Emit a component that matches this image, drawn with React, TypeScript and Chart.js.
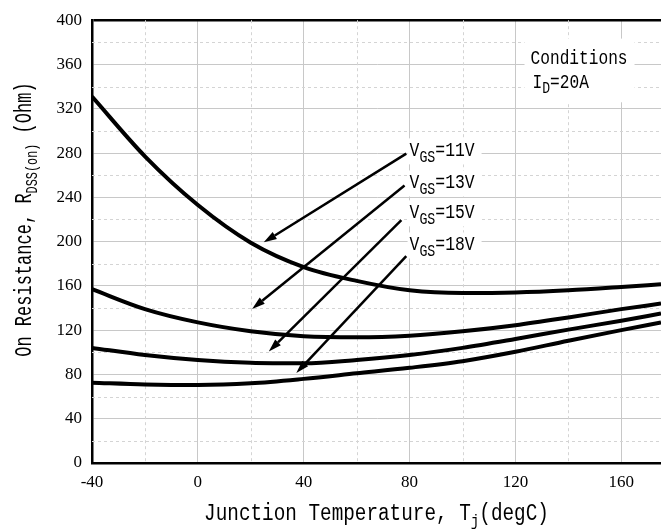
import React, { useEffect, useRef } from "react";
import { Chart, registerables } from "chart.js";
Chart.register(...registerables);

// Junction temperature (degC)
const temps = [-40, -20, 0, 20, 40, 60, 80, 100, 120, 140, 160, 175];
// On resistance (Ohm) per gate voltage
const rds11 = [331, 277, 233, 199, 177, 164.5, 156, 153.5, 154, 156, 159, 161.5];
const rds13 = [157, 139, 127, 119, 114.5, 113.5, 115, 119, 124.5, 131.5, 139, 144];
const rds15 = [104, 97.5, 93, 90.5, 90, 93, 97.5, 104, 112, 120.5, 128.5, 135];
const rds18 = [72.5, 71, 70.5, 72, 76, 81, 86, 92, 100.5, 110.5, 120, 127];

const seriesNames = ["VGS=11V", "VGS=13V", "VGS=15V", "VGS=18V"];
const voltTexts = ["=11V", "=13V", "=15V", "=18V"];

const xTickValues = [-40, 0, 40, 80, 120, 160];
const xMinorValues = [-20, 20, 60, 100, 140];
const yMinorValues = [20, 60, 100, 140, 180, 220, 260, 300, 340, 380];

// annotation label anchors (data coords)
const labelT = [80, 80, 80, 80];
const labelR = [277, 248, 221, 192];
// arrows: tail near label, head on curve (data coords)
const arrowTailT = [78.75, 78.1, 76.9, 78.75];
const arrowTailR = [279.5, 250.6, 219.4, 186.8];
const arrowHeadT = [24.9, 20.5, 26.8, 37.2];
const arrowHeadR = [199.3, 139.2, 100.7, 81.3];

const condT = 125.7;
const condR = [360.8, 338.5];

const xTitleMain = "Junction Temperature, T";
const xTitleSub = "j";
const xTitleEnd = "(degC)";
const yTitleMain = "On Resistance, R";
const yTitleSub = "DSS(on)";
const yTitleEnd = " (Ohm)";

const MONO = '"Liberation Mono", "DejaVu Sans Mono", monospace';

type Part = { t: string; size: number; dy?: number; sx?: number };

function drawRich(ctx: CanvasRenderingContext2D, parts: Part[], x: number, y: number, align: "left" | "center", sx: number) {
  let total = 0;
  const widths: number[] = [];
  for (const p of parts) {
    ctx.font = `${p.size}px ${MONO}`;
    const w = ctx.measureText(p.t).width * (p.sx ?? sx);
    widths.push(w);
    total += w;
  }
  let cur = align === "center" ? x - total / 2 : x;
  ctx.textAlign = "left";
  ctx.textBaseline = "alphabetic";
  parts.forEach((p, i) => {
    ctx.font = `${p.size}px ${MONO}`;
    ctx.save();
    ctx.translate(cur, y + (p.dy ?? 0));
    ctx.scale(p.sx ?? sx, 1);
    ctx.fillText(p.t, 0, 0);
    ctx.restore();
    cur += widths[i];
  });
  return total;
}

const minorGridPlugin = {
  id: "minorGrid",
  beforeDatasetsDraw(chart: any) {
    const { ctx, chartArea, scales } = chart;
    const xs = scales.x, ys = scales.y;
    ctx.save();
    ctx.strokeStyle = "#d4d4d4";
    ctx.lineWidth = 1;
    ctx.setLineDash([3, 3]);
    for (const v of xMinorValues) {
      const px = Math.round(xs.getPixelForValue(v)) + 0.5;
      ctx.beginPath();
      ctx.moveTo(px, chartArea.top);
      ctx.lineTo(px, chartArea.bottom);
      ctx.stroke();
    }
    for (const v of yMinorValues) {
      const py = Math.round(ys.getPixelForValue(v)) + 0.5;
      ctx.beginPath();
      ctx.moveTo(chartArea.left, py);
      ctx.lineTo(chartArea.right, py);
      ctx.stroke();
    }
    ctx.restore();
  },
};

const annotationPlugin = {
  id: "annotations",
  afterDatasetsDraw(chart: any) {
    const { ctx, chartArea, scales } = chart;
    const xs = scales.x, ys = scales.y;
    ctx.save();
    ctx.fillStyle = "#000";
    // series labels
    for (let i = 0; i < seriesNames.length; i++) {
      const px = xs.getPixelForValue(labelT[i]);
      const py = ys.getPixelForValue(labelR[i]);
      ctx.fillStyle = "#fff";
      ctx.fillRect(px - 2, py - 18, 74, 26);
      ctx.fillStyle = "#000";
      drawRich(
        ctx,
        [
          { t: "V", size: 21 },
          { t: "GS", size: 17, dy: 6 },
          { t: voltTexts[i], size: 21 },
        ],
        px,
        py,
        "left",
        0.78
      );
    }
    // arrows
    ctx.strokeStyle = "#000";
    ctx.fillStyle = "#000";
    for (let i = 0; i < arrowTailT.length; i++) {
      const x1 = xs.getPixelForValue(arrowTailT[i]);
      const y1 = ys.getPixelForValue(arrowTailR[i]);
      const x2 = xs.getPixelForValue(arrowHeadT[i]);
      const y2 = ys.getPixelForValue(arrowHeadR[i]);
      const ang = Math.atan2(y2 - y1, x2 - x1);
      const hl = 13, hw = 4;
      const bx = x2 - hl * Math.cos(ang), by = y2 - hl * Math.sin(ang);
      ctx.lineWidth = 2.5;
      ctx.beginPath();
      ctx.moveTo(x1, y1);
      ctx.lineTo(bx, by);
      ctx.stroke();
      ctx.beginPath();
      ctx.moveTo(x2, y2);
      ctx.lineTo(bx + hw * Math.sin(ang), by - hw * Math.cos(ang));
      ctx.lineTo(bx - hw * Math.sin(ang), by + hw * Math.cos(ang));
      ctx.closePath();
      ctx.fill();
    }
    // conditions box
    const cx = xs.getPixelForValue(condT);
    const cy0 = ys.getPixelForValue(condR[0]);
    const cy1 = ys.getPixelForValue(condR[1]);
    ctx.fillStyle = "#fff";
    ctx.fillRect(cx - 6, cy0 - 25, 110, cy1 - cy0 + 39);
    ctx.fillStyle = "#000";
    drawRich(ctx, [{ t: "Conditions", size: 21 }], cx, cy0, "left", 0.77);
    drawRich(
      ctx,
      [
        { t: "I", size: 21 },
        { t: "D", size: 17, dy: 5 },
        { t: "=20A", size: 21 },
      ],
      cx + 2,
      cy1,
      "left",
      0.77
    );
    ctx.restore();

    // axis titles
    ctx.save();
    ctx.fillStyle = "#000";
    const midX = (chartArea.left + chartArea.right) / 2;
    drawRich(
      ctx,
      [
        { t: xTitleMain, size: 23 },
        { t: xTitleSub, size: 17, dy: 6 },
        { t: xTitleEnd, size: 23 },
      ],
      midX,
      chartArea.bottom + 57,
      "center",
      0.84
    );
    ctx.translate(chartArea.left - 61, (chartArea.top + chartArea.bottom) / 2 - 22);
    ctx.rotate(-Math.PI / 2);
    drawRich(
      ctx,
      [
        { t: yTitleMain, size: 23 },
        { t: yTitleSub, size: 16, dy: 6 },
        { t: yTitleEnd, size: 23 },
      ],
      0,
      0,
      "center",
      0.74
    );
    ctx.restore();
  },
};

export default function App() {
  const ref = useRef<HTMLCanvasElement | null>(null);
  useEffect(() => {
    document.body.style.margin = "0";
    const canvas = ref.current;
    if (!canvas) return;
    const mk = (arr: number[]) => temps.map((t, i) => ({ x: t, y: arr[i] }));
    const all = [rds11, rds13, rds15, rds18];
    const chart = new Chart(canvas, {
      type: "line",
      data: {
        datasets: all.map((arr, i) => ({
          label: seriesNames[i],
          data: mk(arr),
          borderColor: "#000",
          backgroundColor: "#000",
          borderWidth: 4,
          pointRadius: 0,
          cubicInterpolationMode: "monotone" as const,
          fill: false,
        })),
      },
      options: {
        animation: false,
        responsive: false,
        layout: { padding: { top: 14, right: 0, left: 0, bottom: 0 } },
        plugins: { legend: { display: false }, tooltip: { enabled: false } },
        scales: {
          x: {
            type: "linear",
            min: -40,
            max: 175,
            afterBuildTicks: (scale: any) => {
              scale.ticks = xTickValues.map((v) => ({ value: v }));
            },
            afterFit: (scale: any) => {
              scale.height = 66;
            },
            ticks: {
              padding: 9,
              color: "#000",
              font: { family: '"Liberation Serif", serif', size: 17 },
              maxRotation: 0,
              autoSkip: false,
            },
            grid: { color: "#c8c8c8", lineWidth: 1, drawTicks: false },
            border: { color: "#000", width: 2.5 },
          },
          y: {
            type: "linear",
            min: 0,
            max: 400,
            ticks: {
              stepSize: 40,
              padding: 10,
              color: "#000",
              font: { family: '"Liberation Serif", serif', size: 17 },
            },
            afterFit: (scale: any) => {
              scale.width = 92;
            },
            grid: {
              color: (c: any) => (c.tick && c.tick.value === 400 ? "#000" : "#c8c8c8"),
              lineWidth: (c: any) => (c.tick && c.tick.value === 400 ? 2.5 : 1),
              drawTicks: false,
            },
            border: { color: "#000", width: 2.5 },
          },
        },
      },
      plugins: [minorGridPlugin, annotationPlugin],
    });
    return () => chart.destroy();
  }, []);
  return (
    <div style={{ width: 661, height: 529 }}>
      <canvas ref={ref} width={661} height={529} />
    </div>
  );
}
